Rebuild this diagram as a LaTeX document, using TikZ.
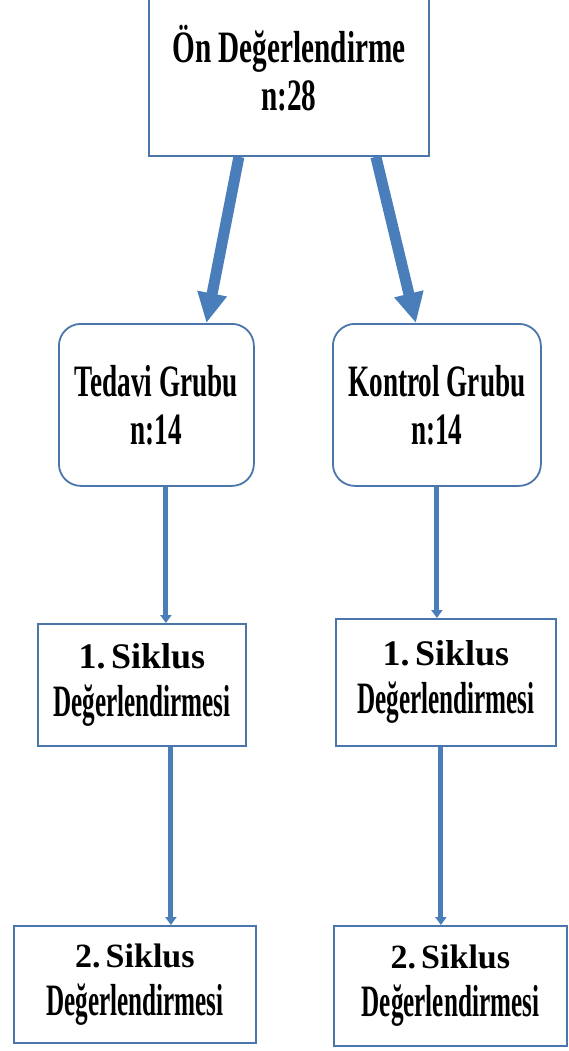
\documentclass[tikz,border=0pt]{standalone}
\usepackage{fontspec}
\setmainfont{Liberation Serif}
\usetikzlibrary{arrows.meta,calc}
\definecolor{boxblue}{HTML}{4A76AC}
\definecolor{arrblue}{HTML}{4A7EBB}
\newcommand\cnd[1]{\scalebox{0.8}[1.32]{#1}}
\newcommand\cnt[1]{\scalebox{0.74}[1.32]{#1}}
\begin{document}
\begin{tikzpicture}[x=1pt,y=-1pt,
  box/.style={draw=boxblue,line width=1.8pt,fill=white,inner sep=0pt,align=center,
    font=\bfseries\fontsize{34}{48}\selectfont,anchor=north west},
  rbox/.style={box,rounded corners=22pt},
  bigarrow/.style={draw=arrblue,line width=11pt,-{Triangle[length=30pt,width=28pt]}},
  smallarrow/.style={draw=arrblue,line width=5pt,-{Triangle[length=8pt,width=11pt]}}]
\useasboundingbox (0,0) rectangle (568,1051);
\node[box,minimum width=280,minimum height=175] (top) at (148,-20)
  {\scalebox{0.86}[1.32]{Ön Değerlendirme}\\\scalebox{0.86}[1.32]{n:28}};
\node[rbox,minimum width=195,minimum height=162] (ted) at (58,323)
  {\cnd{Tedavi Grubu}\\\cnd{n:14}};
\node[rbox,minimum width=208,minimum height=162] (kon) at (332,323)
  {\cnd{Kontrol Grubu}\\\cnd{n:14}};
\node[box,minimum width=208,minimum height=122] (s1l) at (37,623)
  {{\fontsize{36}{48}\selectfont 1.\kern0.15em Siklus}\\\cnt{Değerlendirmesi}};
\node[box,minimum width=220,minimum height=127] (s1r) at (335,618)
  {{\fontsize{36}{48}\selectfont 1.\kern0.15em Siklus}\\\cnt{Değerlendirmesi}};
\node[box,minimum width=242,minimum height=117] (s2l) at (13,925)
  {2.\kern0.15em Siklus\\\cnt{Değerlendirmesi}};
\node[box,minimum width=233,minimum height=120] (s2r) at (333,925)
  {2.\kern0.15em Siklus\\\cnt{Değerlendirmesi}};
\draw[bigarrow] ([xshift=-50pt]top.south) -- ([xshift=50pt]ted.north);
\draw[bigarrow] ([xshift=87pt]top.south) -- ([xshift=-21pt]kon.north);
\draw[smallarrow] ([xshift=9.5pt]ted.south) -- ([xshift=24pt]s1l.north);
\draw[smallarrow] (kon.south) -- ([xshift=-9pt]s1r.north);
\draw[smallarrow] ([xshift=29pt]s1l.south) -- ([xshift=36pt]s2l.north);
\draw[smallarrow] ([xshift=-5pt]s1r.south) -- ([xshift=-9.5pt]s2r.north);
\end{tikzpicture}
\end{document}
